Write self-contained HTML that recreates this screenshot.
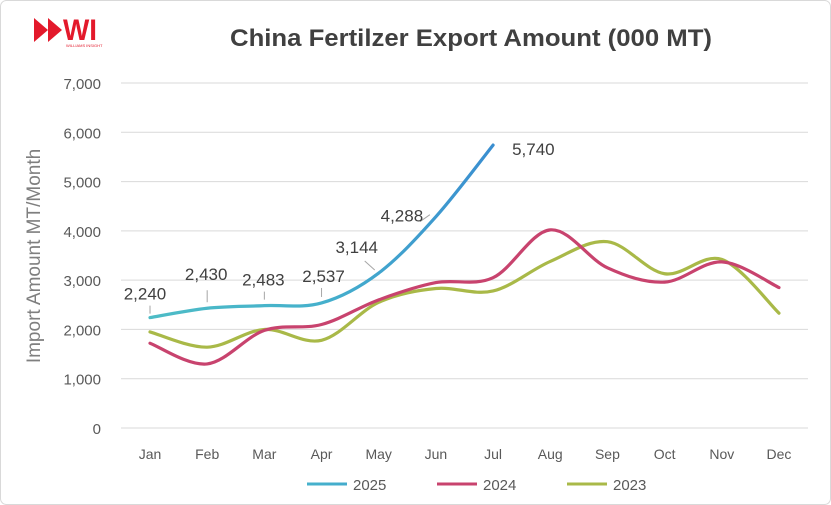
<!DOCTYPE html>
<html><head><meta charset="utf-8"><style>
body{margin:0;background:#fff;font-family:"Liberation Sans",sans-serif}
svg{display:block}
</style></head><body>
<svg id="c" width="831" height="505" xmlns="http://www.w3.org/2000/svg">
<defs><linearGradient id="g25" x1="150" y1="0" x2="493" y2="0" gradientUnits="userSpaceOnUse">
<stop offset="0" stop-color="#4dbcc6"/><stop offset="0.5" stop-color="#45b0cc"/><stop offset="1" stop-color="#3a8ed0"/></linearGradient></defs>
<rect x="0.5" y="0.5" width="830" height="504" rx="6" fill="#fff" stroke="#d9d9d9"/>
<g>
<polygon points="34,18 48,30 34,42" fill="#e3192b"/><polygon points="48,18 62,30 48,42" fill="#e3192b"/>
<text x="63" y="40" font-size="30" font-weight="bold" fill="#e3192b" textLength="34" lengthAdjust="spacingAndGlyphs">WI</text>
<text x="66" y="47" font-size="4" fill="#e3192b">WILLIAMS INSIGHT</text>
</g>
<text x="471" y="46" text-anchor="middle" font-size="24" font-weight="bold" fill="#404040" textLength="482" lengthAdjust="spacingAndGlyphs">China Fertilzer Export Amount (000 MT)</text>
<text transform="translate(40,256) rotate(-90)" text-anchor="middle" font-size="19" fill="#7f7f7f">Import Amount MT/Month</text>
<g id="grid"></g><g id="lines"></g><g id="labels"></g>
<g>
<line x1="307" y1="484" x2="347" y2="484" stroke="url(#g25)" stroke-width="3"/><text x="353" y="490" font-size="15" fill="#595959">2025</text>
<line x1="437" y1="484" x2="477" y2="484" stroke="#c8436e" stroke-width="3"/><text x="483" y="490" font-size="15" fill="#595959">2024</text>
<line x1="567" y1="484" x2="607" y2="484" stroke="#a9b948" stroke-width="3"/><text x="613" y="490" font-size="15" fill="#595959">2023</text>
</g>
</svg>
<script>
const months=["Jan","Feb","Mar","Apr","May","Jun","Jul","Aug","Sep","Oct","Nov","Dec"];
const yTicks=[0,1000,2000,3000,4000,5000,6000,7000];
const s2025=[2240,2430,2483,2537,3144,4288,5740];
const s2024=[1720,1300,1980,2100,2600,2950,3050,4020,3250,2960,3370,2850];
const s2023=[1950,1640,2000,1780,2550,2830,2780,3380,3780,3130,3420,2330];
const NS="http://www.w3.org/2000/svg";
const X=i=>150+i*57.18, Y=v=>428-v*345/7000;
function mk(t,a,p){const e=document.createElementNS(NS,t);for(const k in a)e.setAttribute(k,a[k]);p.appendChild(e);return e;}
const grid=document.getElementById('grid'),lines=document.getElementById('lines'),labels=document.getElementById('labels');
yTicks.forEach(v=>{
 const l=mk('line',{x1:121,x2:808,y1:Y(v),y2:Y(v),stroke:'#d9d9d9','stroke-width':1},grid);
 
 
 const t=mk('text',{x:101,y:Y(v)+6,'text-anchor':'end','font-size':15,fill:'#595959'},grid);t.textContent=v.toLocaleString('en-US');
 
 
});
months.forEach((m,i)=>{const t=mk('text',{x:X(i),y:459,'text-anchor':'middle','font-size':14,fill:'#595959'},grid);t.textContent=m;
 
 });
function path(d){const p=d.map((v,i)=>[X(i),Y(v)]);let s=`M${p[0][0]},${p[0][1]}`;
 for(let i=0;i<p.length-1;i++){const p0=p[i-1]||p[i],p1=p[i],p2=p[i+1],p3=p[i+2]||p2;
 s+=`C${p1[0]+(p2[0]-p0[0])/6},${p1[1]+(p2[1]-p0[1])/6} ${p2[0]-(p3[0]-p1[0])/6},${p2[1]-(p3[1]-p1[1])/6} ${p2[0]},${p2[1]}`;}return s;}
[[s2023,'#a9b948','line-2023'],[s2024,'#c8436e','line-2024'],[s2025,'url(#g25)','line-2025']].forEach(([d,c,n])=>{
 const e=mk('path',{d:path(d),fill:'none',stroke:c,'stroke-width':3.2,'stroke-linecap':'round'},lines);
 
 
});
const off=[[-5,-18],[-1,-28],[-1,-20],[2,-21],[-22,-20],[-34,5],[19,10]];
const lead=[[0,-4,0,-12],[0,-6,0,-18],[0,-6,0,-14],[0,-6,0,-15],[-4,-3,-14,-12],[-6,-2,-16,5]];
s2025.forEach((v,i)=>{
 if(i<6){const L=lead[i];const ln=mk('line',{x1:X(i)+L[0],y1:Y(v)+L[1],x2:X(i)+L[2],y2:Y(v)+L[3],stroke:'#a6a6a6'},labels);
  
  }
 const t=mk('text',{x:X(i)+off[i][0],y:Y(v)+off[i][1],'text-anchor':i==6?'start':'middle','font-size':17,fill:'#404040'},labels);
 t.textContent=v.toLocaleString('en-US');
 
 
});
</script>
</body></html>
